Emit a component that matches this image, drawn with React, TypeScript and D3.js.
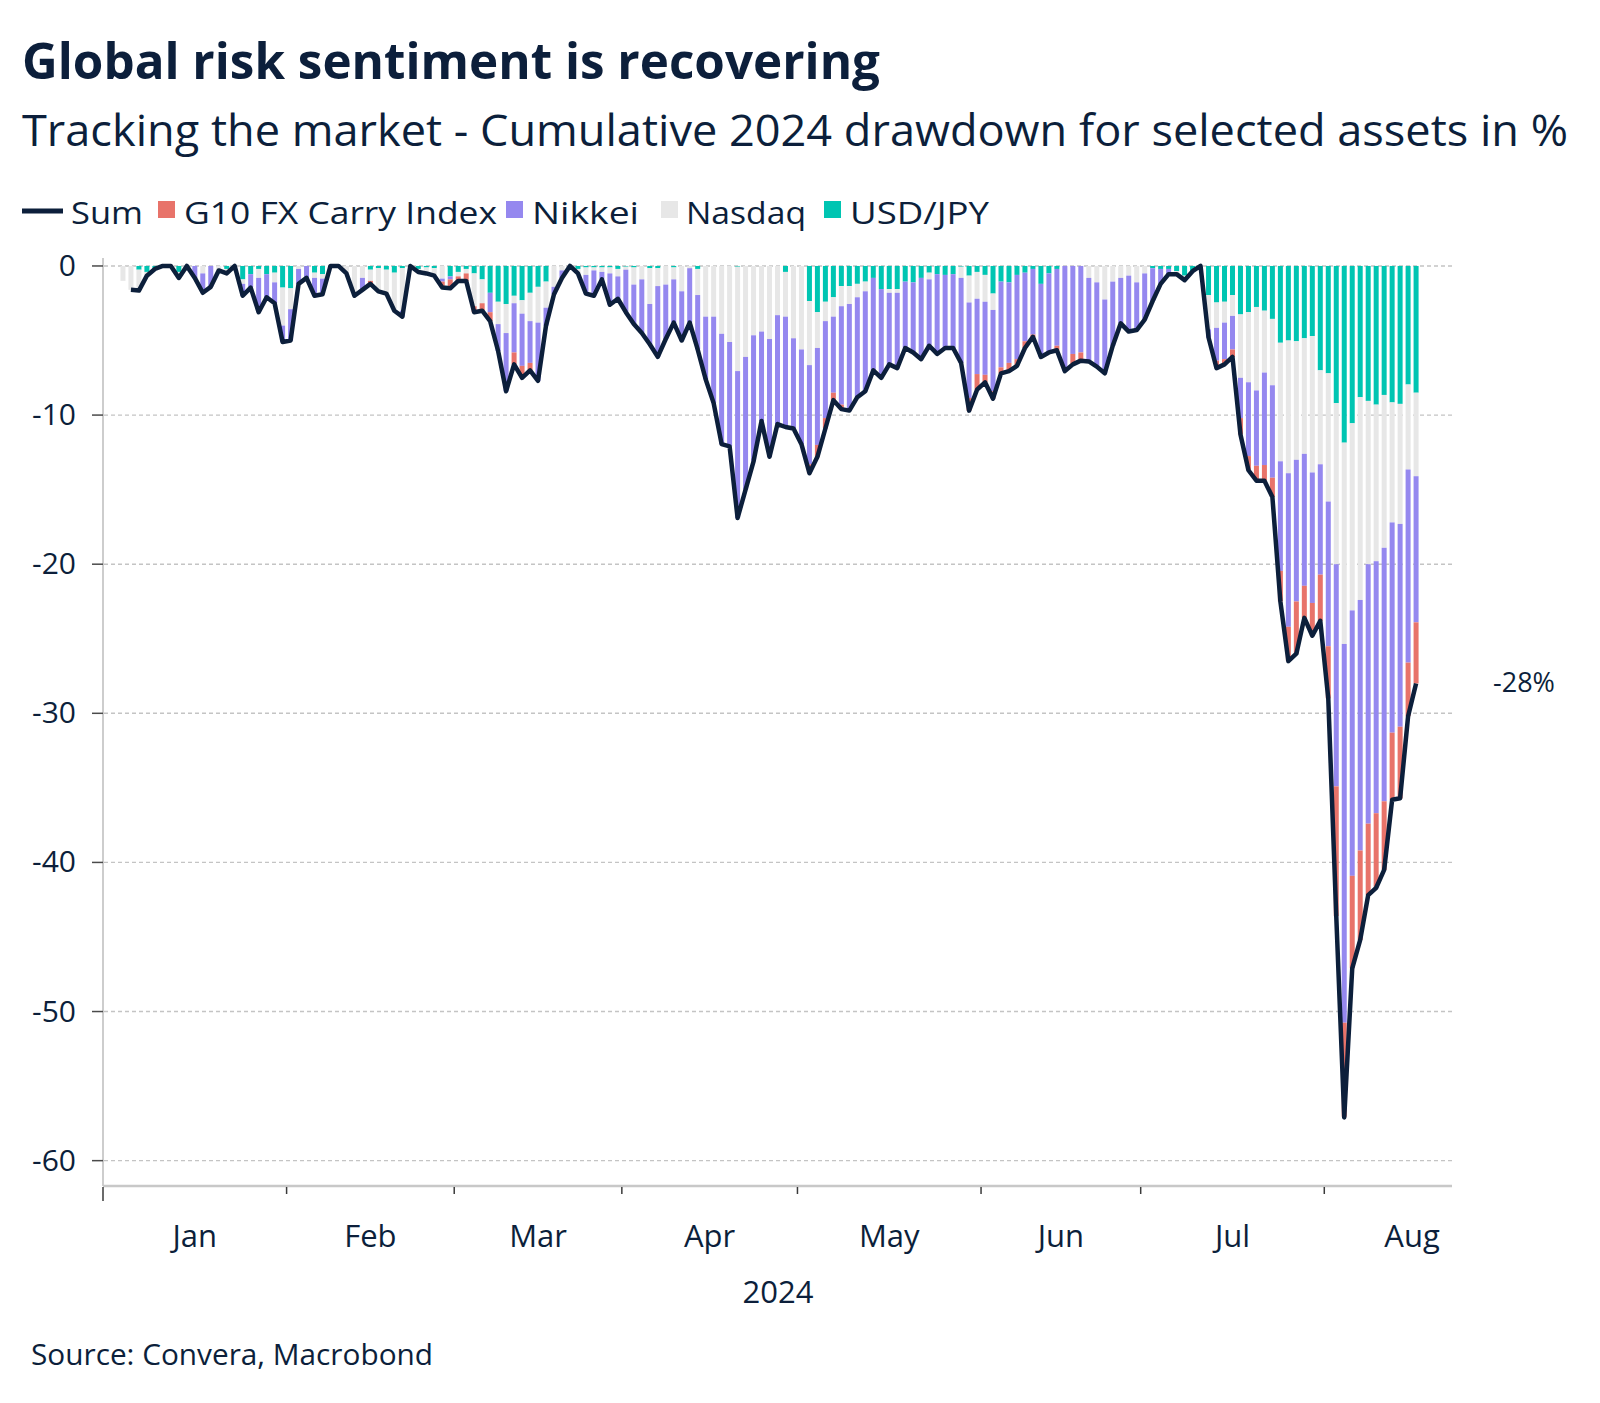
import React, { useEffect } from "react";
import * as d3 from "d3";

// ---------- DATA (weekdays, first value = 2024-01-02) ----------
const usdjpy = [
  0, 0, 0, -0.25, -0.4, -0.2, 0, 0, -0.4, 0,
  0, 0, 0, 0, -0.2, 0, -0.9, -0.55, -0.2, -0.55,
  -0.45, -1.45, -1.5, 0, 0, -0.45, -0.55, 0, 0, 0,
  0, 0, -0.25, -0.15, -0.25, -0.45, -0.15, 0, -0.2, -0.1,
  -0.15, 0, -0.7, -0.4, -0.2, -0.5, -0.9, -1.8, -2.4, -2.55,
  -2.0, -2.3, -1.8, -1.4, -1.05, 0, 0, 0, -0.2, -0.1,
  -0.1, -0.1, -0.1, -0.2, -0.05, -0.1, 0, -0.15, -0.15, 0,
  -0.1, 0, 0, -0.2, 0, 0, 0, 0, -0.05, 0,
  0, 0, 0, 0, -0.4, 0, 0, -2.35, -3.1, -2.4,
  -2.1, -1.35, -1.35, -1.2, -1.05, -0.8, -1.55, -1.55, -1.55, -1.05,
  -1.1, -0.8, -0.45, -0.55, -0.6, -0.55, -0.05, -0.65, -0.4, -0.6,
  -1.85, -1.05, -1.1, -0.6, -0.45, -0.2, -1.2, -0.5, -0.2, 0,
  0, 0, 0, 0, 0, 0, 0, 0, 0, 0,
  -0.15, -0.2, -0.2, -0.35, -0.65, -0.35, 0, -1.95, -2.45, -2.4,
  -1.95, -3.25, -3.1, -2.75, -3.0, -3.55, -5.15, -5.0, -5.05, -4.85,
  -4.7, -7.0, -7.2, -9.2, -11.85, -10.55, -8.8, -9.05, -9.3, -8.65,
  -9.15, -9.25, -7.95, -8.5,
];
const nasdaq = [
  0, -1.0, -1.6, -1.4, -0.25, 0, 0, 0, -0.4, 0,
  0, -0.5, 0, -0.3, -0.3, 0, -0.3, 0, -0.6, 0,
  -0.65, -2.55, -1.4, -0.2, 0, -0.35, -0.3, 0, 0, -0.5,
  -2.0, -0.8, -0.75, -1.55, -1.6, -2.55, -2.85, 0, -0.2, -0.4,
  -0.5, -0.85, 0, -0.3, -0.3, -2.2, -1.6, 0, -1.5, -1.95,
  -0.5, -0.9, -1.9, -2.4, -1.75, -1.4, -0.3, 0, -0.3, -0.5,
  -0.2, -0.3, -0.4, -0.5, -0.2, -1.15, -0.9, -2.4, -1.2, -1.25,
  -0.8, -1.7, -0.15, -1.75, -3.4, -3.4, -4.55, -5.1, -7.0, -6.1,
  -4.65, -4.4, -4.9, -3.3, -3.0, -4.85, -5.6, -4.3, -2.4, -1.3,
  -1.3, -1.35, -1.2, -0.9, -0.65, 0, 0, -0.25, -0.25, 0,
  0, 0, -0.45, 0, 0, 0, -0.75, -1.8, -1.8, -1.8,
  -1.1, 0, 0, 0, 0, 0, 0, 0, 0, 0,
  0, 0, -0.8, -1.1, -2.25, -1.05, -0.8, -0.65, -1.1, -0.5,
  0, 0, 0, -0.2, -0.3, 0, 0, -2.3, -1.7, -1.4,
  -1.4, -4.25, -4.7, -5.6, -4.15, -4.45, -7.95, -8.9, -7.95, -7.75,
  -9.15, -6.3, -8.6, -10.8, -13.5, -12.55, -13.6, -10.95, -10.5, -10.25,
  -8.05, -8.05, -5.7, -5.6,
];
const nikkei = [
  0, 0, 0, 0, 0, 0, 0, 0, 0, 0,
  -0.8, -1.3, -1.4, 0, 0, 0, -0.8, -0.9, -2.3, -1.55,
  -1.4, -1.1, -2.1, -1.0, -0.8, -1.2, -1.05, 0, 0, 0,
  0, -0.8, 0, 0, 0, 0, -0.4, 0, 0, 0,
  0, -0.2, -0.2, 0, 0, 0, 0, -1.3, -1.8, -3.9,
  -3.3, -3.5, -2.8, -3.9, -1.2, -0.5, -0.5, 0, 0, -1.25,
  -1.7, -0.5, -2.1, -1.5, -2.85, -2.65, -3.6, -2.7, -4.75, -3.65,
  -2.9, -3.3, -3.65, -3.65, -4.2, -5.8, -7.4, -7.0, -9.85, -8.9,
  -8.45, -6.0, -7.9, -7.3, -7.4, -6.05, -6.35, -6.65, -6.5, -6.5,
  -5.1, -6.6, -7.15, -6.7, -6.7, -6.2, -5.95, -4.8, -5.05, -4.45,
  -4.7, -5.45, -4.45, -5.35, -4.9, -4.95, -5.7, -6.4, -5.05, -4.9,
  -5.45, -5.75, -5.4, -5.65, -4.6, -4.4, -4.9, -5.3, -5.15, -7.05,
  -5.9, -5.8, -5.6, -5.65, -4.95, -4.3, -3.05, -3.75, -3.2, -3.1,
  -2.2, -1.0, -0.35, 0, 0, 0, 0, -0.55, -2.2, -2.45,
  -2.25, -2.7, -4.95, -5.05, -6.2, -6.2, -7.35, -10.3, -9.5, -8.85,
  -8.75, -7.4, -9.7, -14.9, -25.4, -17.8, -16.8, -17.4, -16.9, -17.0,
  -14.1, -13.6, -12.95, -9.8,
];
const g10Carry = [
  0, 0, 0, 0, 0, 0, 0, 0, 0, 0,
  0, 0, 0, 0, 0, 0, 0, 0, 0, 0,
  0, 0, 0, 0, 0, 0, 0, 0, 0, 0,
  0, 0, -0.2, 0, 0, 0, 0, 0, 0, 0,
  0, -0.4, -0.6, -0.3, -0.5, -0.4, -0.5, -0.6, 0, 0,
  -0.8, -0.8, -0.5, 0, 0, 0, 0, 0, 0, 0,
  0, 0, 0, 0, 0, 0, 0, 0, 0, 0,
  0, 0, 0, 0, 0, 0, 0, 0, 0, 0,
  0, 0, 0, 0, 0, 0, 0, -0.6, -0.8, -0.7,
  -0.5, -0.3, 0, 0, 0, 0, 0, 0, 0, 0,
  0, 0, 0, 0, 0, 0, 0, -0.85, -1.05, -0.5,
  -0.5, -0.4, -0.55, -0.45, -0.45, -0.15, 0, 0, -0.3, 0,
  -0.7, -0.55, 0, 0, 0, 0, 0, 0, 0, 0,
  0, 0, 0, 0, 0, 0, 0, 0, -0.5, -0.35,
  -0.5, -1.1, -0.95, -1.0, -1.05, -1.3, -2.05, -2.3, -3.5, -2.15,
  -2.2, -3.1, -3.5, -8.7, -6.3, -6.2, -6.0, -4.8, -5.0, -4.6,
  -4.5, -4.8, -3.6, -4.1,
];
const sumLine: (number | null)[] = [
  null, null, -1.6, -1.65, -0.65, -0.2, 0, 0, -0.8, 0,
  -0.8, -1.8, -1.4, -0.3, -0.5, 0, -2.0, -1.45, -3.1, -2.1,
  -2.5, -5.1, -5.0, -1.2, -0.8, -2.0, -1.9, 0, 0, -0.5,
  -2.0, -1.6, -1.2, -1.7, -1.85, -3.0, -3.4, 0, -0.4, -0.5,
  -0.65, -1.45, -1.5, -1.0, -1.0, -3.1, -3.0, -3.7, -5.7, -8.4,
  -6.6, -7.5, -7.0, -7.7, -4.0, -1.9, -0.8, 0, -0.5, -1.85,
  -2.0, -0.9, -2.6, -2.2, -3.1, -3.9, -4.5, -5.25, -6.1, -4.9,
  -3.8, -5.0, -3.8, -5.6, -7.6, -9.2, -11.95, -12.1, -16.9, -15.0,
  -13.1, -10.4, -12.8, -10.6, -10.8, -10.9, -11.95, -13.9, -12.8, -10.9,
  -9.0, -9.6, -9.7, -8.8, -8.4, -7.0, -7.5, -6.6, -6.85, -5.5,
  -5.8, -6.25, -5.35, -5.9, -5.5, -5.5, -6.5, -9.7, -8.3, -7.8,
  -8.9, -7.2, -7.05, -6.7, -5.5, -4.75, -6.1, -5.8, -5.65, -7.05,
  -6.6, -6.35, -6.4, -6.75, -7.2, -5.35, -3.85, -4.4, -4.3, -3.6,
  -2.35, -1.2, -0.55, -0.55, -0.95, -0.35, 0, -4.8, -6.85, -6.6,
  -6.1, -11.3, -13.7, -14.4, -14.4, -15.5, -22.5, -26.5, -26.0, -23.6,
  -24.8, -23.8, -29.0, -43.6, -57.1, -47.1, -45.2, -42.2, -41.7, -40.5,
  -35.8, -35.7, -30.2, -28.0,
];

const seriesKeys = ["usdjpy", "nasdaq", "nikkei", "g10"];
const seriesColors = ["#00c5b2", "#e7e7e7", "#9588ef", "#e8736a"];
const legendLabels = ["Sum", "G10 FX Carry Index", "Nikkei", "Nasdaq", "USD/JPY"];
const yTicks = [0, -10, -20, -30, -40, -50, -60];
const monthNames = ["Jan", "Feb", "Mar", "Apr", "May", "Jun", "Jul", "Aug"];
const lastLabel = "-28%";

const NAVY = "#0c1f3b";
const FONT = "'Segoe UI', 'Open Sans', 'Noto Sans', sans-serif";

function weekdays(from: Date, to: Date): Date[] {
  return d3.timeDay
    .range(from, d3.timeDay.offset(to, 1))
    .filter((d) => d.getDay() !== 0 && d.getDay() !== 6);
}

export default function App() {
  useEffect(() => {
    document.body.style.margin = "0";
    document.body.style.overflow = "hidden";
  }, []);

  const W = 1600;
  const H = 1403;
  const axisDays = weekdays(new Date(2024, 0, 1), new Date(2024, 7, 22));
  const allDays = weekdays(new Date(2024, 0, 1), new Date(2024, 7, 31));
  const dataStart = new Date(2024, 0, 2);
  const offset = axisDays.findIndex((d) => +d === +dataStart);

  const x = d3.scaleLinear().domain([0, axisDays.length]).range([103, 1452]);
  const y = d3.scaleLinear().domain([-61.7, 0.4]).range([1186, 260]);
  const barW = 5;
  const xc = (k: number) => x(k + offset + 0.5);

  const rows = usdjpy.map((_, k) => ({
    usdjpy: usdjpy[k],
    nasdaq: nasdaq[k],
    nikkei: nikkei[k],
    g10: g10Carry[k],
  }));
  const stacked = d3
    .stack<any>()
    .keys(seriesKeys)
    .offset(d3.stackOffsetDiverging)(rows);

  const line = d3
    .line<number | null>()
    .defined((v) => v != null)
    .x((_, k) => xc(k))
    .y((v) => y(v as number))
    .curve(d3.curveLinear);

  const months = monthNames.map((name, m) => {
    const idx = allDays.findIndex((d) => d.getMonth() === m);
    const count = allDays.filter((d) => d.getMonth() === m).length;
    return { name, start: idx, center: idx + count / 2 };
  });

  const lastVal = sumLine[sumLine.length - 1] as number;

  const legendItems = [
    { x: 22, tx: 71, tl: 72, color: NAVY, line: true },
    { x: 158, tx: 184, tl: 313, color: seriesColors[3] },
    { x: 506, tx: 532, tl: 107, color: seriesColors[2] },
    { x: 661, tx: 686, tl: 120, color: seriesColors[1] },
    { x: 824, tx: 850, tl: 139, color: seriesColors[0] },
  ];

  return (
    <svg
      width={W}
      height={H}
      viewBox={`0 0 ${W} ${H}`}
      style={{ position: "absolute", left: 0, top: 0, background: "#fff", fontFamily: FONT }}
    >
      <rect x={0} y={0} width={W} height={H} fill="#fff" />
      <text x={22} y={79} fontSize={50} fontWeight={700} fill={NAVY} textLength={858} lengthAdjust="spacingAndGlyphs">
        Global risk sentiment is recovering
      </text>
      <text x={22} y={146} fontSize={43} fill={NAVY} textLength={1546} lengthAdjust="spacingAndGlyphs">
        Tracking the market - Cumulative 2024 drawdown for selected assets in %
      </text>

      {legendItems.map((it, i) => (
        <g key={i}>
          {it.line ? (
            <line x1={it.x} x2={it.x + 41} y1={211} y2={211} stroke={it.color} strokeWidth={5} />
          ) : (
            <rect x={it.x} y={201} width={17} height={17} fill={it.color} />
          )}
          <text x={it.tx} y={224} fontSize={31} fill={NAVY} textLength={it.tl} lengthAdjust="spacingAndGlyphs">
            {legendLabels[i]}
          </text>
        </g>
      ))}

      {yTicks.map((t) => (
        <line
          key={"g" + t}
          x1={104}
          x2={1452}
          y1={y(t)}
          y2={y(t)}
          stroke="#c4c4c4"
          strokeWidth={1.4}
          strokeDasharray="4 3"
        />
      ))}

      {stacked.map((s, si) => (
        <g key={s.key} fill={seriesColors[si]}>
          {s.map((d, k) => {
            const top = y(Math.max(d[0], d[1]));
            const bot = y(Math.min(d[0], d[1]));
            const h = bot - top;
            if (h <= 0.01) return null;
            return <rect key={k} x={xc(k) - barW / 2} y={top} width={barW} height={h} />;
          })}
        </g>
      ))}

      <line x1={103} x2={103} y1={258} y2={1186} stroke="#bdbdbd" strokeWidth={1.5} />
      {yTicks.map((t) => (
        <g key={"t" + t}>
          <line x1={92} x2={103} y1={y(t)} y2={y(t)} stroke="#4a4a4a" strokeWidth={1.5} />
          <text x={76} y={y(t) + 10} fontSize={30} textAnchor="end" fill={NAVY}>
            {t}
          </text>
        </g>
      ))}
      <line x1={103} x2={1452} y1={1186} y2={1186} stroke="#c8c8c8" strokeWidth={2.5} />
      {months.map((m, i) => (
        <g key={m.name}>
          <line
            x1={x(m.start)}
            x2={x(m.start)}
            y1={1187}
            y2={i === 0 ? 1201 : 1194}
            stroke="#3a3a3a"
            strokeWidth={1.5}
          />
          <text x={x(m.center)} y={1247} fontSize={31} textAnchor="middle" fill={NAVY}>
            {m.name}
          </text>
        </g>
      ))}
      <text x={778} y={1303} fontSize={31} textAnchor="middle" fill={NAVY}>
        2024
      </text>

      <path d={line(sumLine) || ""} fill="none" stroke={NAVY} strokeWidth={4.5} strokeLinejoin="round" />

      <text x={1493} y={y(lastVal) + 9} fontSize={27} fill={NAVY}>
        {lastLabel}
      </text>

      <text x={31} y={1365} fontSize={29} fill={NAVY} textLength={402} lengthAdjust="spacingAndGlyphs">
        Source: Convera, Macrobond
      </text>
    </svg>
  );
}
